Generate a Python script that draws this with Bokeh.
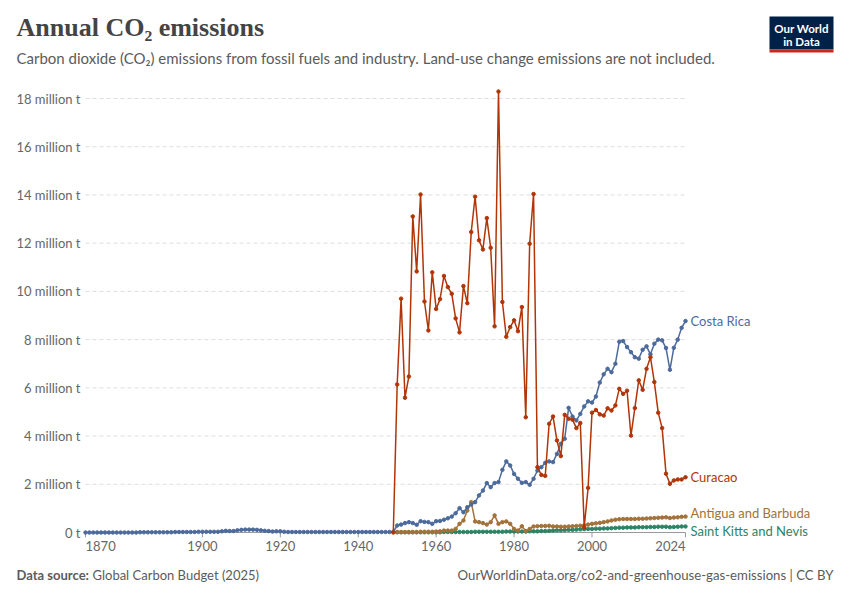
from bokeh.plotting import figure
from bokeh.models import ColumnDataSource, Label, BoxAnnotation, Range1d
from bokeh.core.properties import value
from bokeh.embed import file_html
from bokeh.resources import INLINE

## Données (millions de tonnes de CO2)

years_cr = list(range(1870, 2025))
costa_rica = [
    0.00, 0.00, 0.00, 0.00, 0.00, 0.00, 0.00, 0.00, 0.00, 0.00,
    0.00, 0.00, 0.00, 0.00, 0.01, 0.01, 0.01, 0.01, 0.01, 0.01,
    0.01, 0.01, 0.01, 0.02, 0.02, 0.02, 0.02, 0.02, 0.02, 0.03,
    0.03, 0.03, 0.03, 0.03, 0.03, 0.05, 0.07, 0.06, 0.06, 0.09,
    0.11, 0.12, 0.12, 0.12, 0.11, 0.09, 0.07, 0.06, 0.04, 0.05,
    0.05, 0.03, 0.02, 0.02, 0.02, 0.02, 0.02, 0.02, 0.02, 0.02,
    0.02, 0.02, 0.02, 0.02, 0.02, 0.02, 0.02, 0.02, 0.02, 0.02,
    0.02, 0.02, 0.02, 0.02, 0.02, 0.02, 0.02, 0.02, 0.02, 0.03,
    0.29, 0.33, 0.39, 0.43, 0.39, 0.32, 0.47, 0.44, 0.43, 0.36,
    0.47, 0.48, 0.53, 0.59, 0.66, 0.80, 1.01, 0.84, 1.05, 1.16,
    1.26, 1.54, 1.74, 2.05, 1.88, 2.05, 2.09, 2.60, 2.95, 2.78,
    2.43, 2.23, 2.06, 2.09, 1.98, 2.23, 2.57, 2.71, 2.89, 2.95,
    2.92, 3.26, 3.68, 3.89, 5.17, 4.81, 4.65, 4.92, 5.23, 5.44,
    5.39, 5.64, 6.22, 6.56, 6.79, 6.65, 7.00, 7.91, 7.94, 7.69,
    7.48, 7.27, 7.21, 7.58, 7.72, 7.39, 7.83, 8.00, 7.97, 7.65,
    6.75, 7.66, 8.00, 8.49, 8.77]

years_cw = list(range(1949, 2025))
curacao = [
    0.00,
    6.14, 9.70, 5.59, 6.47, 13.11, 10.83, 14.02, 9.58, 8.38, 10.79,
    9.27, 9.68, 10.64, 10.18, 9.90, 8.88, 8.30, 10.22, 9.51, 12.46,
    13.93, 12.12, 11.74, 13.04, 11.81, 8.55, 18.29, 9.56, 8.12, 8.52,
    8.80, 8.35, 9.35, 4.78, 11.98, 14.04, 2.71, 2.39, 2.35, 4.51,
    4.81, 3.82, 3.17, 4.88, 4.72, 4.68, 4.33, 4.54, 0.22, 1.85,
    4.97, 5.08, 4.90, 4.85, 5.15, 5.06, 5.27, 5.96, 5.75, 5.88,
    4.02, 5.16, 6.31, 5.92, 6.79, 7.27, 6.24, 4.97, 4.33, 2.44,
    2.02, 2.16, 2.20, 2.20, 2.29]

years_ag = list(range(1950, 2025))
antigua = [
    0.02, 0.02, 0.02, 0.02, 0.02, 0.02, 0.03, 0.03, 0.03, 0.03,
    0.04, 0.05, 0.08, 0.08, 0.08, 0.15, 0.36, 0.50, 0.91, 1.26,
    0.46, 0.43, 0.39, 0.33, 0.43, 0.71, 0.36, 0.43, 0.46, 0.36,
    0.15, 0.08, 0.26, 0.06, 0.15, 0.25, 0.26, 0.27, 0.27, 0.28,
    0.25, 0.25, 0.24, 0.24, 0.25, 0.26, 0.27, 0.28, 0.30, 0.33,
    0.36, 0.38, 0.40, 0.43, 0.46, 0.50, 0.53, 0.55, 0.56, 0.56,
    0.56, 0.56, 0.57, 0.57, 0.58, 0.59, 0.60, 0.61, 0.62, 0.63,
    0.60, 0.62, 0.63, 0.65, 0.66]

years_kn = list(range(1950, 2025))
saint_kitts = [
    0.01, 0.01, 0.01, 0.01, 0.01, 0.01, 0.01, 0.01, 0.01, 0.01,
    0.01, 0.01, 0.02, 0.02, 0.02, 0.02, 0.02, 0.02, 0.02, 0.02,
    0.03, 0.03, 0.03, 0.03, 0.03, 0.03, 0.03, 0.03, 0.04, 0.04,
    0.04, 0.04, 0.04, 0.04, 0.05, 0.05, 0.05, 0.06, 0.06, 0.07,
    0.08, 0.09, 0.09, 0.10, 0.11, 0.11, 0.12, 0.13, 0.14, 0.15,
    0.15, 0.16, 0.16, 0.17, 0.17, 0.18, 0.19, 0.20, 0.20, 0.21,
    0.21, 0.21, 0.22, 0.22, 0.22, 0.23, 0.23, 0.24, 0.24, 0.24,
    0.22, 0.23, 0.24, 0.25, 0.25]

countries = ["Saint Kitts and Nevis", "Antigua and Barbuda", "Costa Rica", "Curacao"]
colors = ["#2c8465", "#a2723a", "#4c6a9c", "#b13507"]

y_ticks = [0, 2, 4, 6, 8, 10, 12, 14, 16, 18]
y_labels = ["0 t"] + ["%d million t" % v for v in y_ticks[1:]]
x_ticks = [1870, 1900, 1920, 1940, 1960, 1980, 2000, 2024]
x_labels = [str(v) for v in x_ticks]

series = [(years_kn, saint_kitts), (years_ag, antigua), (years_cr, costa_rica), (years_cw, curacao)]

## Figure : le cadre couvre toute la page, les axes sont dessinés à la main

FONT = "Lato"
GREY = "#666666"
X0, X1 = x_ticks[0], x_ticks[-1]

p = figure(width=850, height=600, output_backend="svg", toolbar_location=None,
           x_range=Range1d(1848.18, 2066.35), y_range=Range1d(-2.820, 22.065),
           min_border=0)
p.axis.visible = False
p.grid.visible = False
p.outline_line_color = None
p.background_fill_color = "white"
p.border_fill_color = "white"

# grille horizontale en tirets
p.segment(x0=X0, x1=X1, y0=y_ticks[1:], y1=y_ticks[1:], line_color="#dddddd",
          line_width=1, line_dash="4 3")
# axe des x
p.segment(x0=X0, x1=X1, y0=0, y1=0, line_color="#999999", line_width=1)
p.segment(x0=x_ticks, x1=x_ticks, y0=0, y1=-0.2, line_color="#999999", line_width=1)

# étiquettes des axes
p.text(x=X0, y=y_ticks, text=y_labels, x_offset=-5, text_align="right",
       text_baseline="middle", text_font=value(FONT), text_font_size=value("13px"),
       text_color=GREY)
xlab = ColumnDataSource(dict(x=x_ticks, y=[0] * len(x_ticks), text=x_labels,
                             align=["left"] + ["center"] * (len(x_ticks) - 2) + ["right"]))
p.text(x="x", y="y", text="text", source=xlab, text_align="align", text_baseline="top",
       y_offset=8, text_font=value(FONT), text_font_size=value("13px"), text_color=GREY)

# séries
for (xs, ys), c in zip(series, colors):
    p.line(xs, ys, line_color=c, line_width=1.5)
    p.scatter(xs, ys, size=3.5, fill_color=c, line_color=c)

# étiquettes des séries
last = ColumnDataSource(dict(x=[s[0][-1] for s in series], y=[s[1][-1] for s in series],
                             text=countries, color=colors, yoff=[5, -4, 0, 0]))
p.text(x="x", y="y", text="text", source=last, text_color="color", x_offset=5,
       y_offset="yoff", text_baseline="middle", text_font=value(FONT),
       text_font_size=value("13px"))

# titre, sous-titre, pied de page (unités écran, origine en bas à gauche)
def lab(x, y, text, size, color="#5b5b5b", font=FONT, **kw):
    p.add_layout(Label(x=x, y=600 - y, x_units="screen", y_units="screen", text=text,
                       text_font=font, text_font_size=size, text_color=color, **kw))

lab(16, 41, "Annual CO\u2082 emissions", "26px", "#444444", "Liberation Serif",
    text_font_style="bold")
lab(16, 66, "Carbon dioxide (CO\u2082) emissions from fossil fuels and industry. "
            "Land-use change emissions are not included.", "15px")
lab(16, 582, "Data source:", "13px", text_font_style="bold")
lab(92, 582, "Global Carbon Budget (2025)", "13px")
lab(833, 582, "OurWorldinData.org/co2-and-greenhouse-gas-emissions | CC BY", "13.2px",
    text_align="right")

# logo
p.add_layout(BoxAnnotation(left=769, right=833, top=584, bottom=551,
                           left_units="screen", right_units="screen",
                           top_units="screen", bottom_units="screen",
                           fill_color="#002147", fill_alpha=1, line_color=None))
p.add_layout(BoxAnnotation(left=769, right=833, top=551, bottom=548,
                           left_units="screen", right_units="screen",
                           top_units="screen", bottom_units="screen",
                           fill_color="#ce261e", fill_alpha=1, line_color=None))
lab(801, 28, "Our World", "11.5px", "white", text_align="center",
    text_baseline="middle", text_font_style="bold")
lab(801, 41, "in Data", "11.5px", "white", text_align="center",
    text_baseline="middle", text_font_style="bold")

open("out.html", "w").write(file_html(p, INLINE))
